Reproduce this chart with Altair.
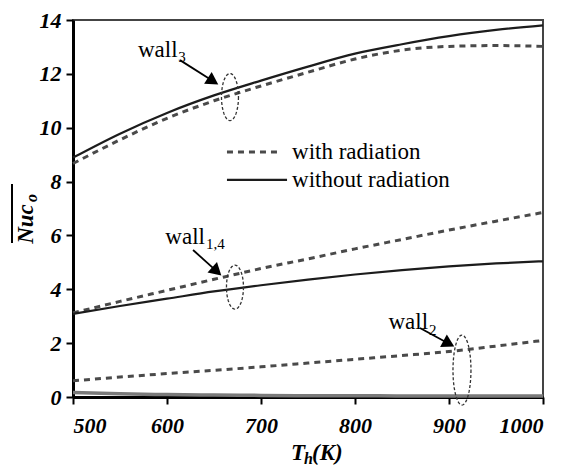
import math
import altair as alt
import pandas as pd

# ---------------- data ----------------
T = [500, 550, 600, 650, 700, 750, 800, 850, 900, 950, 1000]
wall3_without = [8.89, 9.78, 10.55, 11.20, 11.75, 12.27, 12.75, 13.10, 13.40, 13.63, 13.80]
wall3_with = [8.67, 9.55, 10.35, 11.00, 11.55, 12.06, 12.55, 12.88, 13.02, 13.05, 13.02]
wall14_without = [3.09, 3.38, 3.65, 3.92, 4.15, 4.36, 4.55, 4.71, 4.85, 4.96, 5.04]
wall14_with = [3.12, 3.55, 3.96, 4.37, 4.77, 5.13, 5.50, 5.85, 6.20, 6.53, 6.85]
wall2_without = [0.17, 0.12, 0.09, 0.07, 0.06, 0.05, 0.05, 0.04, 0.04, 0.04, 0.04]
wall2_with = [0.60, 0.74, 0.87, 0.99, 1.12, 1.26, 1.40, 1.54, 1.69, 1.89, 2.10]

x_ticks = [500, 600, 700, 800, 900, 1000]
y_ticks = [0, 2, 4, 6, 8, 10, 12, 14]

legend_labels = ["with radiation", "without  radiation"]

# annotation labels: base text, subscript
ann_text = ["wall", "wall", "wall"]
ann_sub = ["3", "1,4", "2"]
# positions in data coordinates (T, value)
ann_text_pos = [(611.2, 12.89), (640.4, 5.94), (877.7, 2.78)]
ann_sub_pos = [(612.0, 12.63), (641.5, 5.68), (878.7, 2.49)]
arrow_start = [(613.8, 12.51), (627.7, 5.46), (869.1, 2.56)]
arrow_tip = [(655.3, 11.59), (658.5, 4.49), (906.4, 1.86)]
ellipse_center = [(667.0, 11.14), (672.3, 4.08), (913.8, 1.00)]
ellipse_rx = [8.5, 8.5, 9.0]
ellipse_ry = [23.5, 22.0, 35.0]

# ---------------- layout ----------------
W, H = 470, 377
XD = [500, 1000]
YD = [0, 14]
ppx = W / (XD[1] - XD[0])
ppy = H / (YD[1] - YD[0])

SERIF = "Liberation Serif"

rows = []
for name, vals, style in [
    ("wall3 without", wall3_without, "solid"),
    ("wall3 with", wall3_with, "dashed"),
    ("wall14 without", wall14_without, "solid"),
    ("wall14 with", wall14_with, "dashed"),
    ("wall2 with", wall2_with, "dashed"),
]:
    for t, v in zip(T, vals):
        rows.append({"T": t, "v": v, "series": name, "style": style})
lines = pd.DataFrame(rows)
bottom = pd.DataFrame({"T": T, "v": wall2_without, "series": "wall2 without"})

xs = alt.Scale(domain=XD, nice=False, zero=False)
ys = alt.Scale(domain=YD, nice=False, zero=False)
xax = alt.Axis(values=x_ticks, title=None, labelPadding=11, grid=False, format="d")
yax = alt.Axis(values=y_ticks, title=None, labelPadding=5, grid=False, format="d")

X = alt.X("T:Q", scale=xs, axis=xax)
Y = alt.Y("v:Q", scale=ys, axis=yax)

solid = alt.Chart(lines[lines["style"] == "solid"]).mark_line(
    color="#1c1c1c", strokeWidth=2.2, interpolate="monotone"
).encode(x=X, y=Y, detail="series:N")

dashed = alt.Chart(lines[lines["style"] == "dashed"]).mark_line(
    color="#4a4a4a", strokeWidth=3, strokeDash=[6, 5], interpolate="monotone"
).encode(x=X, y=Y, detail="series:N")

bottom_line = alt.Chart(bottom).mark_line(
    color="#7a7a7a", strokeWidth=3.5, interpolate="monotone"
).encode(x=X, y=Y)

# legend inside the plot (data coordinates)
leg = pd.DataFrame({
    "x1": [663.8, 663.8], "x2": [720.2, 727.7], "y": [9.10, 8.06],
    "tx": [733.0, 733.0], "label": legend_labels, "style": ["dashed", "solid"],
})
leg_dash = alt.Chart(leg[leg["style"] == "dashed"]).mark_rule(
    color="#4a4a4a", strokeWidth=3, strokeDash=[6, 5]
).encode(x=alt.X("x1:Q", scale=xs), x2="x2:Q", y=alt.Y("y:Q", scale=ys))
leg_solid = alt.Chart(leg[leg["style"] == "solid"]).mark_rule(
    color="#1c1c1c", strokeWidth=2.2
).encode(x=alt.X("x1:Q", scale=xs), x2="x2:Q", y=alt.Y("y:Q", scale=ys))
leg_text = alt.Chart(leg).mark_text(
    align="left", baseline="middle", font=SERIF, fontSize=23, color="black"
).encode(x=alt.X("tx:Q", scale=xs), y=alt.Y("y:Q", scale=ys), text="label:N")

# annotations
ann = pd.DataFrame({
    "tx": [p[0] for p in ann_text_pos], "ty": [p[1] for p in ann_text_pos],
    "text": ann_text,
    "sx": [p[0] for p in ann_sub_pos], "sy": [p[1] for p in ann_sub_pos],
    "sub": ann_sub,
})
ann_main = alt.Chart(ann).mark_text(
    align="right", baseline="middle", font=SERIF, fontSize=23, color="black"
).encode(x=alt.X("tx:Q", scale=xs), y=alt.Y("ty:Q", scale=ys), text="text:N")
ann_subs = alt.Chart(ann).mark_text(
    align="left", baseline="middle", font=SERIF, fontSize=15, color="black"
).encode(x=alt.X("sx:Q", scale=xs), y=alt.Y("sy:Q", scale=ys), text="sub:N")

# arrows
arr_rows = []
for (t1, v1), (t2, v2) in zip(arrow_start, arrow_tip):
    dx = (t2 - t1) * ppx
    dy = -(v2 - v1) * ppy
    L = math.hypot(dx, dy)
    ux, uy = dx / L, dy / L
    back = 7.0
    hx = t2 - ux * back / ppx
    hy = v2 + uy * back / ppy
    ang = math.degrees(math.atan2(dx, -dy)) % 360
    lx = t2 - ux * 10 / ppx
    ly = v2 + uy * 10 / ppy
    arr_rows.append({"x1": t1, "y1": v1, "x2": lx, "y2": ly, "hx": hx, "hy": hy, "ang": ang})
arr = pd.DataFrame(arr_rows)
arrow_lines = alt.Chart(arr).mark_rule(color="black", strokeWidth=1.8).encode(
    x=alt.X("x1:Q", scale=xs), y=alt.Y("y1:Q", scale=ys), x2="x2:Q", y2="y2:Q"
)
arrow_heads = alt.Chart(arr).mark_point(
    shape="triangle-up", filled=True, color="black", size=200, opacity=1
).encode(
    x=alt.X("hx:Q", scale=xs), y=alt.Y("hy:Q", scale=ys),
    angle=alt.Angle("ang:Q", scale=None),
)

# dashed ellipses
def ellipse_path(rx, ry, n=48):
    pts = []
    for i in range(n):
        a = 2 * math.pi * i / n
        pts.append((rx / ry * math.cos(a), math.sin(a)))
    d = "M %.4f %.4f " % pts[0] + " ".join("L %.4f %.4f" % p for p in pts[1:]) + " Z"
    return d

ellipses = []
for (ct, cv), rx, ry in zip(ellipse_center, ellipse_rx, ellipse_ry):
    e = pd.DataFrame({"T": [ct], "v": [cv]})
    ellipses.append(
        alt.Chart(e).mark_point(
            shape=ellipse_path(rx, ry), size=(2 * ry) ** 2, filled=False,
            color="#333333", strokeWidth=1.3, strokeDash=[3, 2], opacity=1
        ).encode(x=alt.X("T:Q", scale=xs), y=alt.Y("v:Q", scale=ys))
    )

# axis titles (pixel positions outside the plot area)
one = pd.DataFrame({"a": [0]})
ytitle = alt.Chart(one).mark_text(
    font=SERIF, fontSize=23, fontStyle="italic", fontWeight="bold", angle=270,
    align="center", baseline="middle", color="black"
).encode(x=alt.value(-47), y=alt.value(204), text=alt.value("Nuc"))
ytitle_sub = alt.Chart(one).mark_text(
    font=SERIF, fontSize=16, fontStyle="italic", fontWeight="bold", angle=270,
    align="center", baseline="middle", color="black"
).encode(x=alt.value(-41), y=alt.value(178), text=alt.value("o"))
ytitle_bar = alt.Chart(one).mark_rule(color="black", strokeWidth=2).encode(
    x=alt.value(-61), y=alt.value(164), y2=alt.value(223)
)
xtitle = alt.Chart(one).mark_text(
    font=SERIF, fontSize=23, fontStyle="italic", fontWeight="bold",
    align="right", baseline="middle", color="black"
).encode(x=alt.value(232), y=alt.value(433), text=alt.value("T"))
xtitle_sub = alt.Chart(one).mark_text(
    font=SERIF, fontSize=16, fontStyle="italic", fontWeight="bold",
    align="left", baseline="middle", color="black"
).encode(x=alt.value(231), y=alt.value(439), text=alt.value("h"))
xtitle_k = alt.Chart(one).mark_text(
    font=SERIF, fontSize=23, fontStyle="italic", fontWeight="bold",
    align="left", baseline="middle", color="black"
).encode(x=alt.value(239), y=alt.value(433), text=alt.value("(K)"))

chart = alt.layer(
    bottom_line, dashed, solid,
    leg_dash, leg_solid, leg_text,
    ann_main, ann_subs, arrow_lines, arrow_heads,
    *ellipses,
    ytitle, ytitle_sub, ytitle_bar, xtitle, xtitle_sub, xtitle_k,
).properties(
    width=W, height=H,
    autosize=alt.AutoSizeParams(type="none"),
    padding={"left": 73, "top": 20, "right": 26, "bottom": 73},
    background="white",
).configure_view(
    stroke="#444444", strokeWidth=2
).configure_axis(
    domainColor="black", domainWidth=3, tickColor="black", tickWidth=2,
    tickSize=7, labelFont=SERIF, labelFontSize=22, labelFontStyle="italic",
    labelFontWeight="bold", labelColor="black",
)

chart.save("out.html", embed_options={"renderer": "svg", "actions": False})
